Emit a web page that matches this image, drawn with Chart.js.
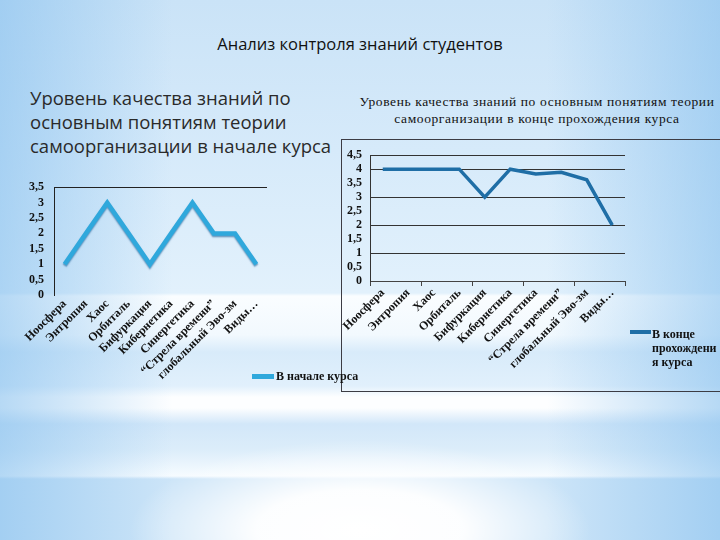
<!DOCTYPE html>
<html>
<head>
<meta charset="utf-8">
<script src="https://cdn.jsdelivr.net/npm/chart.js@4.4.0/dist/chart.umd.min.js"></script>
<style>
  html, body { margin: 0; padding: 0; }
  body {
    width: 720px; height: 540px; position: relative; overflow: hidden;
    background:
      radial-gradient(ellipse 230px 90px at 360px 530px, #ffffff 0%, rgba(255,255,255,0.95) 45%, rgba(255,255,255,0) 100%),
      linear-gradient(to right, rgba(135,192,238,0.6) 0%, rgba(255,255,255,0) 24%, rgba(255,255,255,0) 76%, rgba(135,192,238,0.6) 100%),
      linear-gradient(to bottom, #cae3f7 0px, #d6eafa 150px, #e2f1fc 293px, #fafdff 296px, #f2f9fe 335px, #d8ebfa 352px, #e1f0fc 386px,
        #fdfeff 397px, #fdfeff 408px, #d2e7f9 424px, #dcedfa 450px, #f0f8fe 470px, #f6fbff 476px, #cde5f8 479px, #cde5f8 540px);
  }
  .abs { position: absolute; }
  #title { left: 0; width: 720px; top: 32px; text-align: center; font: 16.5px "Open Sans"; color: #111; }
  #leftHead { left: 30px; top: 86px; font: 18.5px/24px "Open Sans"; color: #2a2a2a; }
  #rightHead { left: 340px; width: 394px; top: 93px; text-align: center; font: 13.5px/17px "Liberation Serif"; letter-spacing: 0.6px; color: #111; }
  #boxR { left: 341px; top: 139px; width: 400px; height: 253px; border: 1px solid #3c3c44; box-sizing: border-box; }
  #cLeft { left: 20px; top: 170px; }
  #cRight { left: 342px; top: 140px; }
  .leg { font: bold 12px/14px "Liberation Serif"; color: #111; }
  .leg .bar { position: absolute; left: 0; height: 5px; width: 22px; }
  #legLeft { left: 252px; top: 369px; padding-left: 24px; }
  #legLeft .bar { top: 5px; background: #2fa8dc; }
  #legRight { left: 630px; top: 327px; padding-left: 22px; }
  #legRight .bar { top: 3px; width: 21px; height: 4px; background: #1f6ea6; }
</style>
</head>
<body>
<div id="title" class="abs">Анализ контроля знаний студентов</div>
<div id="leftHead" class="abs">Уровень качества знаний по<br>основным понятиям теории<br>самоорганизации в начале курса</div>
<div id="rightHead" class="abs">Уровень качества знаний по основным понятиям теории<br>самоорганизации в конце прохождения курса</div>
<div id="boxR" class="abs"></div>
<canvas id="cLeft" class="abs" width="340" height="215"></canvas>
<canvas id="cRight" class="abs" width="378" height="250"></canvas>
<div id="legLeft" class="abs leg"><span class="bar"></span>В начале курса</div>
<div id="legRight" class="abs leg"><span class="bar"></span>В конце<br>прохождени<br>я курса</div>

<script>
const categories = ['Ноосфера', 'Энтропия', 'Хаос', 'Орбиталь', 'Бифуркация', 'Кибернетика',
  'Синергетика', '“Стрела времени”', 'глобальный Эво-зм', 'Виды…'];
const startValues = [1, 2, 3, 2, 1, 2, 3, 2, 2, 1];
const endValues = [4, 4, 4, 4, 3, 4, 3.83, 3.89, 3.62, 2];
const startMax = 3.5;
const endMax = 4.5;

Chart.defaults.font.family = 'Liberation Serif';
Chart.defaults.font.weight = 'bold';
Chart.defaults.font.size = 12;
Chart.defaults.color = '#111';

const comma = v => String(v).replace('.', ',');

// soft shadow under the light blue line, like the 3D effect in the slide
const lineShadow = {
  id: 'lineShadow',
  beforeDatasetDraw(chart) {
    if (!chart.options.plugins.lineShadow) return;
    const ctx = chart.ctx;
    ctx.save();
    ctx.shadowColor = 'rgba(10,80,140,0.55)';
    ctx.shadowBlur = 1.5;
    ctx.shadowOffsetY = 1.5;
  },
  afterDatasetDraw(chart) {
    if (!chart.options.plugins.lineShadow) return;
    chart.ctx.restore();
  }
};

new Chart(document.getElementById('cLeft'), {
  type: 'line',
  data: {
    labels: categories,
    datasets: [{
      label: 'В начале курса',
      data: startValues,
      borderColor: '#2fa8dc',
      borderWidth: 4.5,
      pointRadius: 0,
      tension: 0,
      borderJoinStyle: 'miter'
    }]
  },
  plugins: [lineShadow],
  options: {
    responsive: false,
    animation: false,
    layout: { padding: { top: 15, right: 93, left: 0, bottom: 0 } },
    plugins: { legend: { display: false }, tooltip: { enabled: false }, lineShadow: true },
    scales: {
      x: {
        offset: true,
        grid: { display: false },
        border: { display: false },
        ticks: { autoSkip: false, minRotation: 45, maxRotation: 45, padding: -6 },
        afterFit: s => { s.height = 90; }
      },
      y: {
        min: 0, max: startMax,
        grid: { color: c => c.tick && c.tick.value === startMax ? '#222' : 'transparent', drawTicks: false },
        border: { color: '#222' },
        ticks: { stepSize: 0.5, autoSkip: false, padding: 10, callback: comma },
        afterFit: s => { s.width = 34; }
      }
    }
  }
});

new Chart(document.getElementById('cRight'), {
  type: 'line',
  data: {
    labels: categories,
    datasets: [{
      label: 'В конце прохождения курса',
      data: endValues,
      borderColor: '#1f6ea6',
      borderWidth: 3.5,
      pointRadius: 0,
      tension: 0
    }]
  },
  options: {
    responsive: false,
    animation: false,
    layout: { padding: { top: 10, right: 95, left: 0, bottom: 0 } },
    plugins: { legend: { display: false }, tooltip: { enabled: false } },
    scales: {
      x: {
        offset: true,
        grid: {
          offset: true,
          drawOnChartArea: false,
          tickLength: 5,
          color: c => (c.index === undefined || c.index % 2 === 0) ? '#444' : 'transparent'
        },
        border: { color: '#444' },
        ticks: { autoSkip: false, minRotation: 45, maxRotation: 45, padding: 0 },
        afterFit: s => { s.height = 109; }
      },
      y: {
        min: 0, max: endMax,
        grid: {
          drawTicks: false,
          color: c => c.tick && c.tick.value > 0 && (Number.isInteger(c.tick.value) || c.tick.value === endMax) ? '#333' : 'transparent'
        },
        border: { color: '#333' },
        ticks: { stepSize: 0.5, autoSkip: false, padding: 8, callback: comma },
        afterFit: s => { s.width = 28; }
      }
    }
  }
});
</script>
</body>
</html>
